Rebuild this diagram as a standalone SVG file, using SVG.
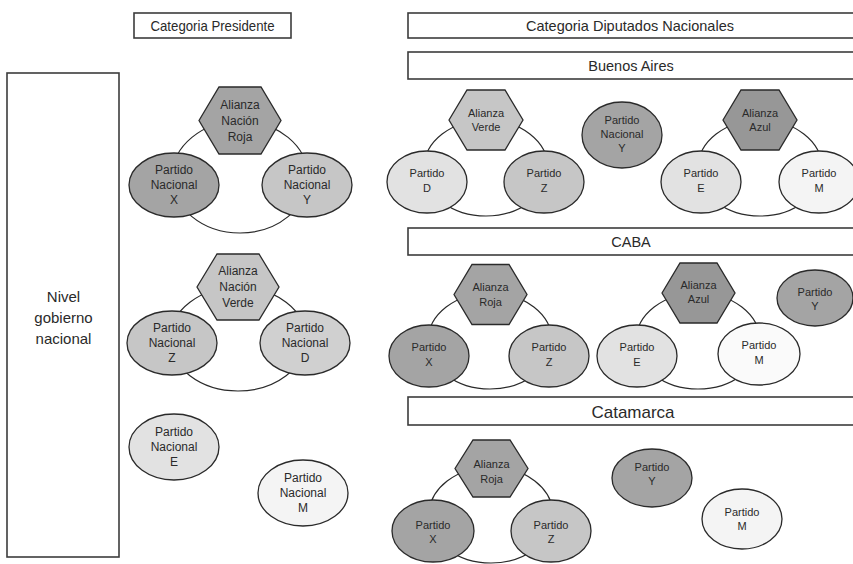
<svg xmlns="http://www.w3.org/2000/svg" width="853" height="564" viewBox="0 0 853 564">
<style>
text{font-family:"Liberation Sans",Arial,sans-serif;fill:#2a2a2a;text-anchor:middle}
.box{fill:#fff;stroke:#3c3c3c;stroke-width:1.6}
.hdr{font-size:14.5px}
.n{stroke:#2a2a2a;stroke-width:1.3}
.t12{font-size:12px}
.t11{font-size:11px}
.ring{fill:none;stroke:#2a2a2a;stroke-width:1.2}
.dk{fill:#a4a4a4}
.dk2{fill:#979797}
.md{fill:#c6c6c6}
.lt{fill:#e2e2e2}
.vl{fill:#f4f4f4}
</style>
<rect width="853" height="564" fill="#fff"/>

<g id="connectors">
<ellipse class="ring" cx="240" cy="177" rx="68" ry="56"/>
<ellipse class="ring" cx="238" cy="339" rx="68" ry="52"/>
<ellipse class="ring" cx="486" cy="168" rx="62" ry="48"/>
<ellipse class="ring" cx="760" cy="168" rx="62" ry="48"/>
<ellipse class="ring" cx="490" cy="341" rx="62" ry="48"/>
<ellipse class="ring" cx="698" cy="341" rx="62" ry="48"/>
<ellipse class="ring" cx="491" cy="515" rx="62" ry="48"/>
</g>

<g id="hdr-presidente"><rect class="box" x="134" y="13" width="157" height="25"/><text class="hdr" x="212.5" y="30.5" textLength="124" lengthAdjust="spacingAndGlyphs">Categoria Presidente</text></g>
<g id="hdr-diputados"><rect class="box" x="408" y="13" width="450" height="25"/><text class="hdr" x="630" y="30.5">Categoria Diputados Nacionales</text></g>
<g id="hdr-ba"><rect class="box" x="408" y="52" width="450" height="27"/><text class="hdr" x="631" y="70.5">Buenos Aires</text></g>
<g id="hdr-caba"><rect class="box" x="408" y="228" width="450" height="27"/><text class="hdr" x="631" y="246.5">CABA</text></g>
<g id="hdr-catamarca"><rect class="box" x="408" y="397" width="450" height="28"/><text style="font-size:17px" x="633" y="417.5">Catamarca</text></g>
<g id="nivel"><rect class="box" x="7" y="73" width="112" height="484"/><text style="font-size:15px" x="63.5" y="302">Nivel</text><text style="font-size:15px" x="63.5" y="323">gobierno</text><text style="font-size:15px" x="63.5" y="344">nacional</text></g>

<!-- Presidente -->
<g id="p-alianza-roja"><polygon class="n dk" points="199,120.5 219,87 261,87 281,120.5 261,154 219,154"/><text class="t12" x="240" y="109">Alianza</text><text class="t12" x="240" y="125">Nación</text><text class="t12" x="240" y="141">Roja</text></g>
<g id="p-x"><ellipse class="n dk" cx="174" cy="185" rx="45" ry="32"/><text class="t12" x="174" y="174">Partido</text><text class="t12" x="174" y="189">Nacional</text><text class="t12" x="174" y="204">X</text></g>
<g id="p-y"><ellipse class="n md" cx="307" cy="185" rx="45" ry="32"/><text class="t12" x="307" y="174">Partido</text><text class="t12" x="307" y="189">Nacional</text><text class="t12" x="307" y="204">Y</text></g>
<g id="p-alianza-verde"><polygon class="n md" points="197,287 217,254 259,254 279,287 259,320 217,320"/><text class="t12" x="238" y="275">Alianza</text><text class="t12" x="238" y="291">Nación</text><text class="t12" x="238" y="307">Verde</text></g>
<g id="p-z"><ellipse class="n md" cx="172" cy="343" rx="45" ry="32"/><text class="t12" x="172" y="332">Partido</text><text class="t12" x="172" y="347">Nacional</text><text class="t12" x="172" y="362">Z</text></g>
<g id="p-d"><ellipse class="n md" cx="305" cy="343" rx="45" ry="32" style="fill:#d0d0d0"/><text class="t12" x="305" y="332">Partido</text><text class="t12" x="305" y="347">Nacional</text><text class="t12" x="305" y="362">D</text></g>
<g id="p-e"><ellipse class="n lt" cx="174" cy="447" rx="45" ry="33"/><text class="t12" x="174" y="436">Partido</text><text class="t12" x="174" y="451">Nacional</text><text class="t12" x="174" y="466">E</text></g>
<g id="p-m"><ellipse class="n vl" cx="303" cy="493" rx="45" ry="33"/><text class="t12" x="303" y="482">Partido</text><text class="t12" x="303" y="497">Nacional</text><text class="t12" x="303" y="512">M</text></g>

<!-- Buenos Aires -->
<g id="ba-alianza-verde"><polygon class="n md" points="449,120 467,90 505,90 523,120 505,150 467,150"/><text class="t11" x="486" y="117">Alianza</text><text class="t11" x="486" y="131">Verde</text></g>
<g id="ba-d"><ellipse class="n lt" cx="427" cy="182" rx="40" ry="31"/><text class="t11" x="427" y="177">Partido</text><text class="t11" x="427" y="192">D</text></g>
<g id="ba-z"><ellipse class="n md" cx="544" cy="182" rx="40" ry="31"/><text class="t11" x="544" y="177">Partido</text><text class="t11" x="544" y="192">Z</text></g>
<g id="ba-y"><ellipse class="n dk" cx="622" cy="135" rx="40" ry="33"/><text class="t11" x="622" y="124">Partido</text><text class="t11" x="622" y="138">Nacional</text><text class="t11" x="622" y="152">Y</text></g>
<g id="ba-alianza-azul"><polygon class="n dk2" points="723,120 741,90 779,90 797,120 779,150 741,150"/><text class="t11" x="760" y="117">Alianza</text><text class="t11" x="760" y="131">Azul</text></g>
<g id="ba-e"><ellipse class="n lt" cx="701" cy="182" rx="40" ry="31"/><text class="t11" x="701" y="177">Partido</text><text class="t11" x="701" y="192">E</text></g>
<g id="ba-m"><ellipse class="n vl" cx="819" cy="182" rx="40" ry="31"/><text class="t11" x="819" y="177">Partido</text><text class="t11" x="819" y="192">M</text></g>

<!-- CABA -->
<g id="caba-alianza-roja"><polygon class="n dk" points="454,294.5 472,264.5 509,264.5 527,294.5 509,324.5 472,324.5"/><text class="t11" x="490.5" y="291">Alianza</text><text class="t11" x="490.5" y="306">Roja</text></g>
<g id="caba-x"><ellipse class="n dk" cx="429" cy="356" rx="40" ry="31"/><text class="t11" x="429" y="351">Partido</text><text class="t11" x="429" y="366">X</text></g>
<g id="caba-z"><ellipse class="n md" cx="549" cy="356" rx="40" ry="31"/><text class="t11" x="549" y="351">Partido</text><text class="t11" x="549" y="366">Z</text></g>
<g id="caba-alianza-azul"><polygon class="n dk2" points="662,293 680,263 717,263 735,293 717,323 680,323"/><text class="t11" x="698.5" y="289">Alianza</text><text class="t11" x="698.5" y="303">Azul</text></g>
<g id="caba-e"><ellipse class="n lt" cx="637" cy="356" rx="40" ry="31"/><text class="t11" x="637" y="351">Partido</text><text class="t11" x="637" y="366">E</text></g>
<g id="caba-m"><ellipse class="n" cx="759" cy="354" rx="41" ry="31" style="fill:#fafafa"/><text class="t11" x="759" y="349">Partido</text><text class="t11" x="759" y="364">M</text></g>
<g id="caba-y"><ellipse class="n dk" cx="815" cy="298" rx="38" ry="28"/><text class="t11" x="815" y="296">Partido</text><text class="t11" x="815" y="310">Y</text></g>

<!-- Catamarca -->
<g id="cat-alianza-roja"><polygon class="n dk" points="455,468.5 473,440 510,440 528,468.5 510,497 473,497"/><text class="t11" x="491.5" y="468">Alianza</text><text class="t11" x="491.5" y="483">Roja</text></g>
<g id="cat-x"><ellipse class="n dk" cx="433" cy="531" rx="41" ry="31"/><text class="t11" x="433" y="529">Partido</text><text class="t11" x="433" y="543">X</text></g>
<g id="cat-z"><ellipse class="n md" cx="551" cy="531" rx="40" ry="31"/><text class="t11" x="551" y="529">Partido</text><text class="t11" x="551" y="543">Z</text></g>
<g id="cat-y"><ellipse class="n dk" cx="652" cy="478" rx="40" ry="29"/><text class="t11" x="652" y="471">Partido</text><text class="t11" x="652" y="485">Y</text></g>
<g id="cat-m"><ellipse class="n vl" cx="742" cy="519" rx="40" ry="30"/><text class="t11" x="742" y="516">Partido</text><text class="t11" x="742" y="530">M</text></g>
</svg>
